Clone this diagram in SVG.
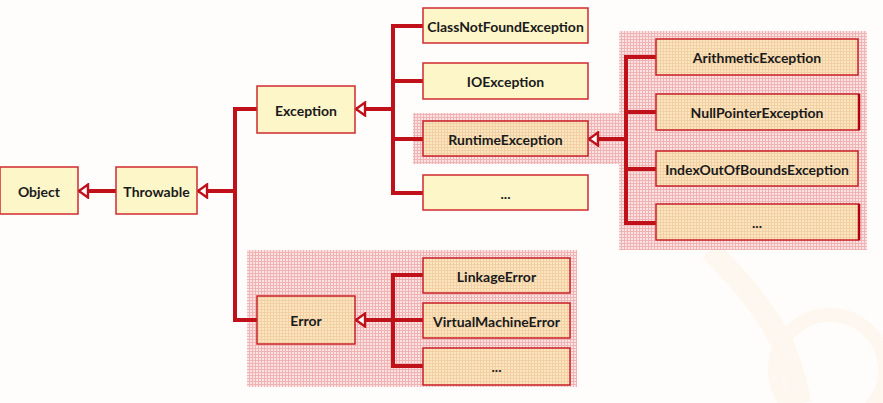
<svg xmlns="http://www.w3.org/2000/svg" width="883" height="403" viewBox="0 0 883 403">
<defs>
<pattern id="pinkGrid" width="3" height="3" patternUnits="userSpaceOnUse">
<rect width="3" height="3" fill="#fbe3e3"/>
<path d="M0 0.5H3M0.5 0V3" stroke="#f0b3b3" stroke-width="1"/>
</pattern>
<pattern id="orangeGrid" width="3" height="3" patternUnits="userSpaceOnUse">
<rect width="3" height="3" fill="#fbe6bd"/>
<path d="M0 0.5H3M0.5 0V3" stroke="#f3cfa6" stroke-width="1"/>
</pattern>
<marker id="tri" viewBox="0 0 12 16" refX="10.5" refY="8" markerWidth="12" markerHeight="16" markerUnits="userSpaceOnUse" orient="auto">
<path d="M1.5 1.5 L10.5 8 L1.5 14.5 Z" fill="#ffffff" stroke="#c0101a" stroke-width="2.4" stroke-linejoin="miter"/>
</marker>
</defs>
<style>
.box{fill:#fdf6c8;stroke:#d02a30;stroke-width:1.5}
.hbox{fill:url(#orangeGrid);stroke:#c82028;stroke-width:1.5}
.back{fill:url(#pinkGrid)}
.lbl{font-family:Lato,"Open Sans","Liberation Sans",sans-serif;font-weight:bold;font-size:14px;fill:#1a1a1a;text-anchor:middle;dominant-baseline:central}
.con{fill:none;stroke:#c0101a;stroke-width:4;stroke-linejoin:miter}
.arr{fill:none;stroke:#c0101a;stroke-width:4}
</style>
<rect width="883" height="403" fill="#fffdfb"/>
<g opacity="0.25">
<path d="M710 250 C760 300 790 340 800 403" fill="none" stroke="#fde6cc" stroke-width="22"/>
<circle cx="830" cy="370" r="55" fill="none" stroke="#fde6cc" stroke-width="14"/>
</g>

<g id="backdrops">
<rect class="back" x="413" y="113" width="208" height="51"/>
<rect class="back" x="619" y="31" width="248" height="219"/>
<rect class="back" x="247" y="250" width="330" height="137"/>
</g>

<g id="connectors">
<line class="arr" x1="116" y1="191" x2="79" y2="191" marker-end="url(#tri)"/>
<line class="arr" x1="235" y1="191" x2="198" y2="191" marker-end="url(#tri)"/>
<path class="con" d="M257 109 H235 V320 H257"/>
<line class="arr" x1="393" y1="109" x2="356" y2="109" marker-end="url(#tri)"/>
<path class="con" d="M423 26 H393 V193 H423"/>
<line class="con" x1="393" y1="81" x2="423" y2="81"/>
<line class="con" x1="393" y1="139" x2="423" y2="139"/>
<line class="arr" x1="626" y1="139" x2="589" y2="139" marker-end="url(#tri)"/>
<path class="con" d="M656 57 H626 V223 H656"/>
<line class="con" x1="626" y1="112" x2="656" y2="112"/>
<line class="con" x1="626" y1="169" x2="656" y2="169"/>
<line class="arr" x1="393" y1="320" x2="356" y2="320" marker-end="url(#tri)"/>
<path class="con" d="M423 275 H393 V366 H423"/>
<line class="con" x1="393" y1="320" x2="423" y2="320"/>
</g>

<g id="object"><rect class="box" x="0" y="167" width="78" height="47"/><text class="lbl" x="39" y="191">Object</text></g>
<g id="throwable"><rect class="box" x="116" y="167" width="81" height="47"/><text class="lbl" x="156.5" y="191">Throwable</text></g>
<g id="exception"><rect class="box" x="257" y="86" width="98" height="47"/><text class="lbl" x="306" y="110">Exception</text></g>
<g id="classnotfound"><rect class="box" x="423" y="8" width="165" height="35"/><text class="lbl" x="505.5" y="26">ClassNotFoundException</text></g>
<g id="ioexception"><rect class="box" x="423" y="63" width="165" height="36"/><text class="lbl" x="505.5" y="81">IOException</text></g>
<g id="runtime"><rect class="hbox" x="423" y="121" width="165" height="35"/><text class="lbl" x="505.5" y="139">RuntimeException</text></g>
<g id="exception-more"><rect class="box" x="423" y="175" width="165" height="35"/><text class="lbl" x="505.5" y="193">...</text></g>
<g id="arithmetic"><rect class="hbox" x="656" y="39" width="202" height="36"/><text class="lbl" x="757" y="57">ArithmeticException</text></g>
<g id="nullpointer"><rect class="hbox" x="656" y="94" width="203" height="36"/><line x1="859" y1="94" x2="859" y2="130" stroke="#b00010" stroke-width="2.5"/><text class="lbl" x="757" y="112">NullPointerException</text></g>
<g id="indexoutofbounds"><rect class="hbox" x="656" y="151" width="202" height="35"/><text class="lbl" x="757" y="169">IndexOutOfBoundsException</text></g>
<g id="runtime-more"><rect class="hbox" x="656" y="204" width="203" height="36"/><line x1="859" y1="204" x2="859" y2="240" stroke="#b00010" stroke-width="2.5"/><text class="lbl" x="757" y="222">...</text></g>
<g id="error"><rect class="hbox" x="257" y="296" width="98" height="48"/><text class="lbl" x="306" y="320">Error</text></g>
<g id="linkage"><rect class="hbox" x="423" y="258" width="147" height="35"/><text class="lbl" x="496.5" y="276">LinkageError</text></g>
<g id="vm"><rect class="hbox" x="423" y="303" width="147" height="35"/><text class="lbl" x="496.5" y="321">VirtualMachineError</text></g>
<g id="error-more"><rect class="hbox" x="423" y="348" width="147" height="37"/><text class="lbl" x="496.5" y="366">...</text></g>
</svg>
